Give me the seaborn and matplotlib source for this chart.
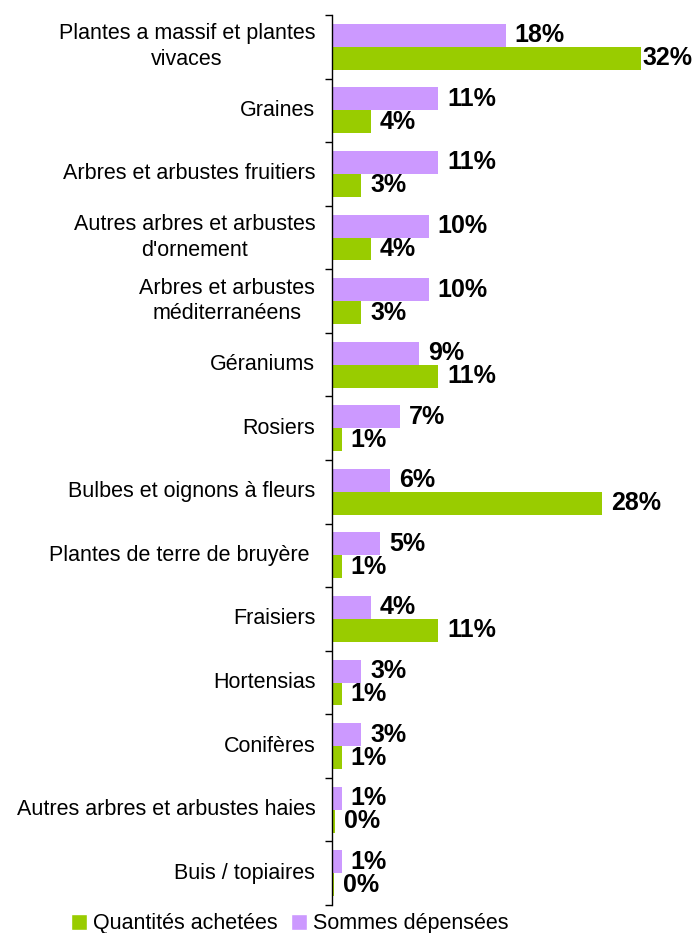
import matplotlib
matplotlib.use("Agg")
import matplotlib.pyplot as plt
from matplotlib.patches import Patch
import seaborn as sns
import pandas as pd

categories = [
    "Plantes a massif et plantes\nvivaces",
    "Graines",
    "Arbres et arbustes fruitiers",
    "Autres arbres et arbustes\nd'ornement",
    "Arbres et arbustes\nméditerranéens",
    "Géraniums",
    "Rosiers",
    "Bulbes et oignons à fleurs",
    "Plantes de terre de bruyère ",
    "Fraisiers",
    "Hortensias",
    "Conifères",
    "Autres arbres et arbustes haies",
    "Buis / topiaires",
]
sommes_depensees = [18, 11, 11, 10, 10, 9, 7, 6, 5, 4, 3, 3, 1, 1]
quantites_achetees = [32, 4, 3, 4, 3, 11, 1, 28, 1, 11, 1, 1, 0.3, 0.2]

series_names = ["Sommes dépensées", "Quantités achetées"]
colors = {"Sommes dépensées": "#CC99FF", "Quantités achetées": "#99CC00"}

df = pd.DataFrame({
    "categorie": categories * 2,
    "serie": [series_names[0]] * len(categories) + [series_names[1]] * len(categories),
    "valeur": sommes_depensees + quantites_achetees,
})

sns.set_style("white")
plt.rcParams["font.family"] = ["Liberation Sans", "DejaVu Sans"]
plt.rcParams["text.color"] = "#000000"
plt.rcParams["ytick.color"] = "#000000"
plt.rcParams["ytick.labelcolor"] = "#000000"

fig = plt.figure(figsize=(6.95, 9.33), dpi=100)
ax = fig.add_axes([332 / 695, 1 - 905 / 933, 1 - 332 / 695, (905 - 15) / 933])

sns.barplot(data=df, y="categorie", x="valeur", hue="serie", hue_order=series_names,
            palette=colors, orient="h", width=0.72, saturation=1, ax=ax,
            legend=False, errorbar=None, linewidth=0)

ax.set_xlim(0, 37.6)
ax.set_ylim(len(categories) - 0.5, -0.5)
ax.set_xlabel("")
ax.set_ylabel("")
ax.set_xticks([])

for s in ["top", "right", "bottom"]:
    ax.spines[s].set_visible(False)
ax.spines["left"].set_color("#000000")
ax.spines["left"].set_linewidth(1.0)

ax.set_yticks(range(len(categories)))
ax.set_yticklabels(categories, fontsize=15.5, multialignment="center",
                   color="#000000", va="center", linespacing=1.3)
ax.tick_params(axis="y", which="major", length=0, pad=12)
ax.set_yticks([i - 0.5 for i in range(len(categories) + 1)], minor=True)
ax.tick_params(axis="y", which="minor", left=True, length=5, width=1,
               color="#000000", direction="out")

# Value labels; the longest bar keeps its label tight so it stays inside the figure
max_value = max(sommes_depensees + quantites_achetees)
for container in ax.containers:
    for bar, v in zip(container, container.datavalues):
        pad = 1 if v == max_value else 6.5
        ax.annotate(f"{v:.0f}%", xy=(v, bar.get_y() + bar.get_height() / 2),
                    xytext=(pad, 0), textcoords="offset points",
                    ha="left", va="center", fontsize=18, fontweight="bold",
                    color="#000000", annotation_clip=False)

handles = [Patch(facecolor=colors["Quantités achetées"], label="Quantités achetées"),
           Patch(facecolor=colors["Sommes dépensées"], label="Sommes dépensées")]
fig.legend(handles=handles, loc="lower left", bbox_to_anchor=(62 / 695, -10 / 933),
           ncol=2, frameon=False, fontsize=15.5, handlelength=0.75, handleheight=0.75,
           handletextpad=0.3, columnspacing=0.6, borderaxespad=0)

fig.savefig("out.png", dpi=100)
